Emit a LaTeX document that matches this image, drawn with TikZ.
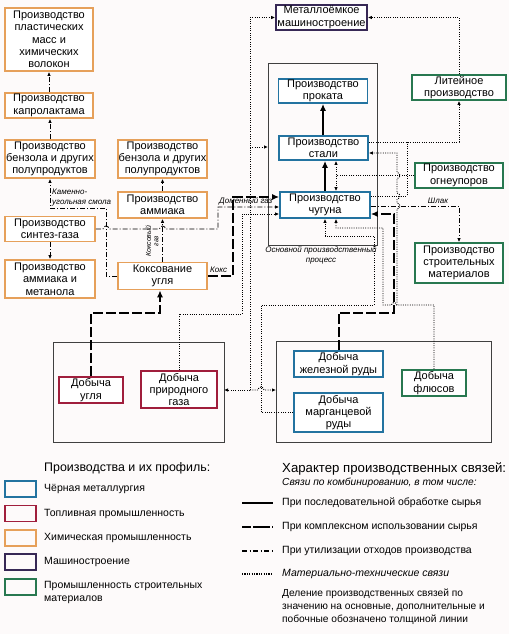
\documentclass[tikz,border=0pt]{standalone}
\usepackage{fontspec}
\setmainfont{Liberation Sans}
\usetikzlibrary{arrows.meta,calc}
\definecolor{cblue}{RGB}{35,115,160}
\definecolor{cred}{RGB}{160,30,60}
\definecolor{corange}{RGB}{230,160,90}
\definecolor{cpurple}{RGB}{55,40,85}
\definecolor{cgreen}{RGB}{40,120,80}
\definecolor{bgc}{RGB}{253,250,250}
\begin{document}
\begin{tikzpicture}[x=1pt,y=-1pt,
  box/.style={draw, line width=1.7pt, fill=white, align=center, inner sep=0pt,
    font=\fontsize{11}{12.3}\selectfont},
  cont/.style={draw=black!75, line width=0.8pt},
  thinA/.style={-{Latex[length=4pt,width=3.5pt]}},
  thickA/.style={-{Latex[length=7pt,width=6pt]}},
  seq/.style={line width=2pt},
  komp/.style={line width=2pt, dash pattern=on 10pt off 3pt},
  util/.style={line width=0.8pt, dash pattern=on 5pt off 2pt on 1pt off 2pt},
  mat/.style={line width=0.9pt, dash pattern=on 1pt off 1.3pt},
  lbl/.style={font=\fontsize{8}{10}\selectfont\itshape, inner sep=0pt, align=center},
  legt/.style={font=\fontsize{10.5}{12}\selectfont, inner sep=0pt, anchor=west, align=left},
]
\fill[bgc] (0,0) rectangle (509,634);
\useasboundingbox (0,0) rectangle (509,634);

% containers
\draw[cont] (268,63) rectangle (377,245);
\coordinate (mainW) at (268,147);
\draw[cont] (53,342) rectangle (224,442);
\coordinate (blE) at (224,390);
\draw[cont] (276,341) rectangle (491,442);
\coordinate (brW) at (276,390);

% boxes
\node[box, draw=corange, minimum width=88pt, minimum height=63pt] (plast) at (49,39.5) {Производство\\пластических\\масс и\\химических\\волокон};
\node[box, draw=corange, minimum width=88pt, minimum height=25pt] (kaprol) at (49,105.5) {Производство\\капролактама};
\node[box, draw=corange, minimum width=90pt, minimum height=38pt] (benzL) at (50,159) {Производство\\бензола и других\\полупродуктов};
\node[box, draw=corange, minimum width=90pt, minimum height=25pt] (sintez) at (50,229) {Производство\\синтез-газа};
\node[box, draw=corange, minimum width=90pt, minimum height=38pt] (ammMet) at (50,279) {Производство\\аммиака и\\метанола};
\node[box, draw=corange, minimum width=89pt, minimum height=38pt] (benzM) at (162.5,159) {Производство\\бензола и других\\полупродуктов};
\node[box, draw=corange, minimum width=89pt, minimum height=26pt] (amm) at (162.5,205) {Производство\\аммиака};
\node[box, draw=corange, minimum width=89pt, minimum height=27pt] (koks) at (162.5,276) {Коксование\\угля};
\node[box, draw=cpurple, minimum width=91pt, minimum height=25pt] (mash) at (321.5,17.5) {Металлоёмкое\\машиностроение};
\node[box, draw=cblue, minimum width=89pt, minimum height=24pt] (prokat) at (323,91) {Производство\\проката};
\node[box, draw=cblue, minimum width=89pt, minimum height=24pt] (stal) at (323.5,148) {Производство\\стали};
\node[box, draw=cblue, minimum width=90pt, minimum height=26pt] (chug) at (325,205) {Производство\\чугуна};
\node[box, draw=cgreen, minimum width=94pt, minimum height=25pt] (liteyn) at (459,87.5) {Литейное\\производство};
\node[box, draw=cgreen, minimum width=88pt, minimum height=25pt] (ogneup) at (459,175.5) {Производство\\огнеупоров};
\node[box, draw=cgreen, minimum width=88pt, minimum height=40pt] (stroit) at (459,263) {Производство\\строительных\\материалов};
\node[box, draw=cred, minimum width=64pt, minimum height=26pt] (ugol) at (91,390) {Добыча\\угля};
\node[box, draw=cred, minimum width=76pt, minimum height=37pt] (gaz) at (179,389.5) {Добыча\\природного\\газа};
\node[box, draw=cblue, minimum width=89pt, minimum height=26pt] (zhel) at (338.5,364) {Добыча\\железной руды};
\node[box, draw=cblue, minimum width=89pt, minimum height=39pt] (marg) at (338.5,412.5) {Добыча\\марганцевой\\руды};
\node[box, draw=cgreen, minimum width=64pt, minimum height=26pt] (flyus) at (434,383) {Добыча\\флюсов};

% chemical chain (utilisation)
\draw[util, thinA] (kaprol.north) -- (plast.south);
\draw[util, thinA] (benzL.north) -- (benzL.north |- kaprol.south);
\draw[util, thinA] (sintez.south) -- (ammMet.north);
\draw[util, thinA] (amm.north) -- (benzM.south);
\draw[util, thinA] (koks.west) -- (106,276) -- (106,208) -- (50,208) -- (benzL.south);
\draw[util, thinA] (koks.north) -- (amm.south);
\draw[util, thinA] (sintez.east) -- (103,229) arc[start angle=180,end angle=360,radius=3]
  -- (159.5,229) arc[start angle=180,end angle=360,radius=3]
  -- (218,229) -- (218,207) -- (chug.west |- 0,207);
\draw[util, thinA] (chug.east |- 0,206) -| (stroit.north);

% labels
\node[lbl, anchor=south west, align=left] at (52,206) {Каменно-\\угольная смола};
\node[lbl, rotate=90, font=\fontsize{7}{7.5}\selectfont\itshape] at (152,241) {Коксовый\\газ};
\node[lbl, anchor=south west] at (219,205) {Доменный газ};
\node[lbl, anchor=south west] at (210,273) {Кокс};
\node[lbl, anchor=south] at (438,204) {Шлак};
\node[lbl, anchor=north] at (321,246) {Основной производственный\\процесс};

% sequential processing
\draw[seq, thickA] (stal.north -| 323,0) -- (prokat.south -| 323,0);
\draw[seq, thickA] (chug.north) -- (chug.north |- stal.south);

% complex use
\draw[komp, thickA] (ugol.north) -- (91,313) -- (160,313) -- (koks.south -| 160,0);
\draw[komp, thickA] (koks.east) -- (233,276) -- (233,197) -- (chug.west |- 0,197);
\draw[komp, thickA] (zhel.north) -- (338.5,313) -- (394,313) -- (394,214) -- (chug.east |- 0,214);

% material-technical links
\draw[mat, thinA] (250,390) |- (mash.west);
\draw[mat, thinA] (250,147) -- (mainW);
\draw[mat, thinA] (250,390) -- (blE);
\draw[mat, thinA] (250,390) -- (258,390) arc[start angle=180,end angle=360,radius=3] -- (brW);
\draw[mat, thinA] (liteyn.north) |- (mash.east);
\draw[mat, thinA] (stal.east |- 0,142) -| (liteyn.south);
\draw[mat] (chug.east |- 0,196) -- (407,196) -- (407,142);
\draw[mat] (ogneup.west) -- (336,175.5);
\draw[mat, {Latex[length=4pt,width=3.5pt]}-{Latex[length=4pt,width=3.5pt]}] (stal.south -| 336,0) -- (chug.north -| 336,0);
\draw[mat, thinA] (gaz.north) -- (179,314) -- (242,314) -- (242,214) -- (chug.west |- 0,214);
\draw[mat, thinA] (marg.west) -- (261,412.5) -- (261,305) -- (374,305) -- (374,236) -- (325,236) -- (chug.south);
\draw[mat, thinA] (flyus.north) -- (434,305) -- (396.5,305) arc[start angle=0,end angle=-180,radius=2.5]
  -- (383,305) -- (383,228) -- (336,228) -- (chug.south -| 336,0);
\draw[mat, thinA] (397,305) -- (397,209) arc[start angle=90,end angle=-90,radius=3]
  -- (397,199) arc[start angle=90,end angle=-90,radius=3]
  -- (397,178.5) arc[start angle=90,end angle=-90,radius=3]
  -- (397,153) -- (stal.east |- 0,153);

% legend: profiles
\node[legt, font=\fontsize{12.4}{14}\selectfont] at (44,468) {Производства и их профиль:};
\draw[line width=1.7pt, draw=cblue] (5,481) rectangle (36,497);
\node[legt] at (44,489) {Чёрная металлургия};
\draw[line width=1.7pt, draw=cred] (5,505.5) rectangle (36,521.5);
\node[legt] at (44,513.5) {Топливная промышленность};
\draw[line width=1.7pt, draw=corange] (5,530) rectangle (36,546);
\node[legt] at (44,538) {Химическая промышленность};
\draw[line width=1.7pt, draw=cpurple] (5,554) rectangle (36,570);
\node[legt] at (44,562) {Машиностроение};
\draw[line width=1.7pt, draw=cgreen] (5,579) rectangle (36,595);
\node[legt, anchor=north west, font=\fontsize{10.5}{13}\selectfont] at (44,581) {Промышленность строительных\\материалов};

% legend: links
\node[legt, font=\fontsize{13.2}{15}\selectfont] at (282,469) {Характер производственных связей:};
\node[legt, font=\fontsize{10.2}{12}\selectfont\itshape] at (282,483) {Связи по комбинированию, в том числе:};
\coordinate (l1a) at (242,503); \coordinate (l1b) at (273,503);
\draw[line width=1.2pt] (l1a) -- (l1b);
\node[legt] at (282,503) {При последовательной обработке сырья};
\coordinate (l2a) at (242,527); \coordinate (l2b) at (273,527);
\draw[line width=1.2pt, dash pattern=on 9pt off 2pt on 17pt off 2pt on 1pt off 2pt] (l2a) -- (l2b);
\node[legt] at (282,527) {При комплексном использовании сырья};
\coordinate (l3a) at (242,551); \coordinate (l3b) at (273,551);
\draw[line width=1.2pt, dash pattern=on 5pt off 2.5pt on 1.2pt off 2.5pt] (l3a) -- (l3b);
\node[legt] at (282,551) {При утилизации отходов производства};
\coordinate (l4a) at (242,574); \coordinate (l4b) at (273,574);
\draw[line width=1.2pt, dash pattern=on 1.2pt off 1.2pt] (l4a) -- (l4b);
\node[legt, font=\fontsize{10.5}{12}\selectfont\itshape] at (282,574) {Материально-технические связи};
\node[legt, anchor=north west, font=\fontsize{10.2}{13}\selectfont] at (282,589) {Деление производственных связей по\\значению на основные, дополнительные и\\побочные обозначено толщиной линии};
\end{tikzpicture}
\end{document}
